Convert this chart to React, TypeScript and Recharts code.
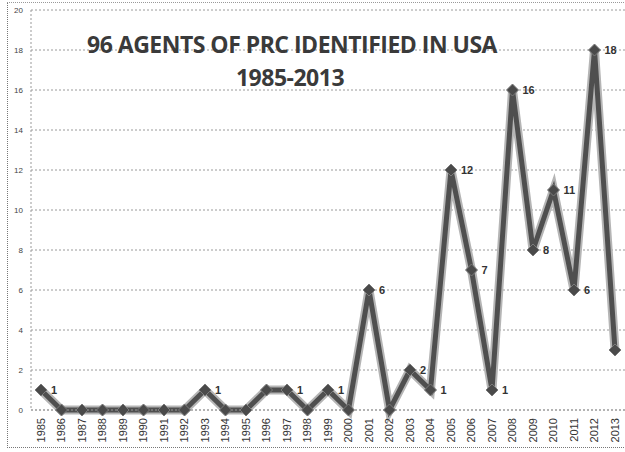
import { CartesianGrid, LabelList, Line, LineChart, XAxis, YAxis } from "recharts";

const years = [
  "1985", "1986", "1987", "1988", "1989", "1990", "1991", "1992", "1993", "1994",
  "1995", "1996", "1997", "1998", "1999", "2000", "2001", "2002", "2003", "2004",
  "2005", "2006", "2007", "2008", "2009", "2010", "2011", "2012", "2013",
];
const agents = [1, 0, 0, 0, 0, 0, 0, 0, 1, 0, 0, 1, 1, 0, 1, 0, 6, 0, 2, 1, 12, 7, 1, 16, 8, 11, 6, 18, 3];
// which points carry a value label in the original
const labels = ["1", "", "", "", "", "", "", "", "1", "", "", "", "1", "", "1", "", "6", "", "2", "1", "12", "7", "1", "16", "8", "11", "6", "18", "3"];
const yTicks = [0, 2, 4, 6, 8, 10, 12, 14, 16, 18, 20];

const data = years.map((year, i) => ({ year, agents: agents[i], label: labels[i] }));

const Diamond = (props: any) => {
  const { cx, cy } = props;
  if (cx == null || cy == null) return null;
  const s = 6;
  return (
    <path
      d={`M${cx},${cy - s}L${cx + s},${cy}L${cx},${cy + s}L${cx - s},${cy}Z`}
      fill="#4a4a4a"
      stroke="#7a7a7a"
      strokeWidth={1}
    />
  );
};

const PointLabel = (props: any) => {
  const { x, y, value } = props;
  if (!value) return null;
  return (
    <text
      x={x + 10}
      y={y + 4}
      fontSize={11}
      fontWeight="bold"
      fill="#333"
      fontFamily="'Liberation Sans', Arial, sans-serif"
    >
      {value}
    </text>
  );
};

export default function App() {
  return (
    <div style={{ position: "absolute", left: 0, top: 0, width: 625, height: 452, overflow: "hidden", background: "#fff" }}>
      <div
        style={{
          position: "absolute",
          left: 7,
          top: 2,
          width: 640,
          height: 444,
          borderLeft: "1px dotted #777",
          borderTop: "1px dotted #999",
          borderBottom: "1px dotted #777",
        }}
      />
      <LineChart
        width={625}
        height={452}
        data={data}
        margin={{ top: 10, right: 0, left: 0, bottom: 0 }}
        style={{ fontFamily: "'Liberation Sans', Arial, sans-serif" }}
      >
        <CartesianGrid vertical={false} stroke="#9a9a9a" strokeDasharray="2 2" />
        <XAxis
          dataKey="year"
          interval={0}
          height={42}
          padding={{ left: 10, right: 10 }}
          angle={-90}
          textAnchor="end"
          tick={{ fontSize: 11, fill: "#333", dx: -4 }}
          tickLine={false}
          axisLine={{ stroke: "#999", strokeDasharray: "2 2" }}
        />
        <YAxis
          width={31}
          domain={[0, 20]}
          ticks={yTicks}
          interval={0}
          tick={{ fontSize: 8, fill: "#444" }}
          tickLine={false}
          axisLine={{ stroke: "#999", strokeDasharray: "2 2" }}
        />
        <Line
          dataKey="agents"
          stroke="#b5b5b5"
          strokeWidth={9}
          dot={false}
          activeDot={false}
          isAnimationActive={false}
          legendType="none"
        />
        <Line
          dataKey="agents"
          stroke="#4f4f4f"
          strokeWidth={5}
          dot={<Diamond />}
          activeDot={false}
          isAnimationActive={false}
        >
          <LabelList dataKey="label" content={<PointLabel />} />
        </Line>
        <text
          x={292}
          y={53}
          textAnchor="middle"
          fontSize={23}
          fontWeight="bold"
          fill="#3a3a3a"
          fontFamily="'Open Sans', 'Liberation Sans', sans-serif"
          letterSpacing={-0.5}
        >
          96 AGENTS OF PRC IDENTIFIED IN USA
        </text>
        <text
          x={290}
          y={86}
          textAnchor="middle"
          fontSize={23}
          fontWeight="bold"
          fill="#3a3a3a"
          fontFamily="'Open Sans', 'Liberation Sans', sans-serif"
          letterSpacing={-0.5}
        >
          1985-2013
        </text>
      </LineChart>
    </div>
  );
}
